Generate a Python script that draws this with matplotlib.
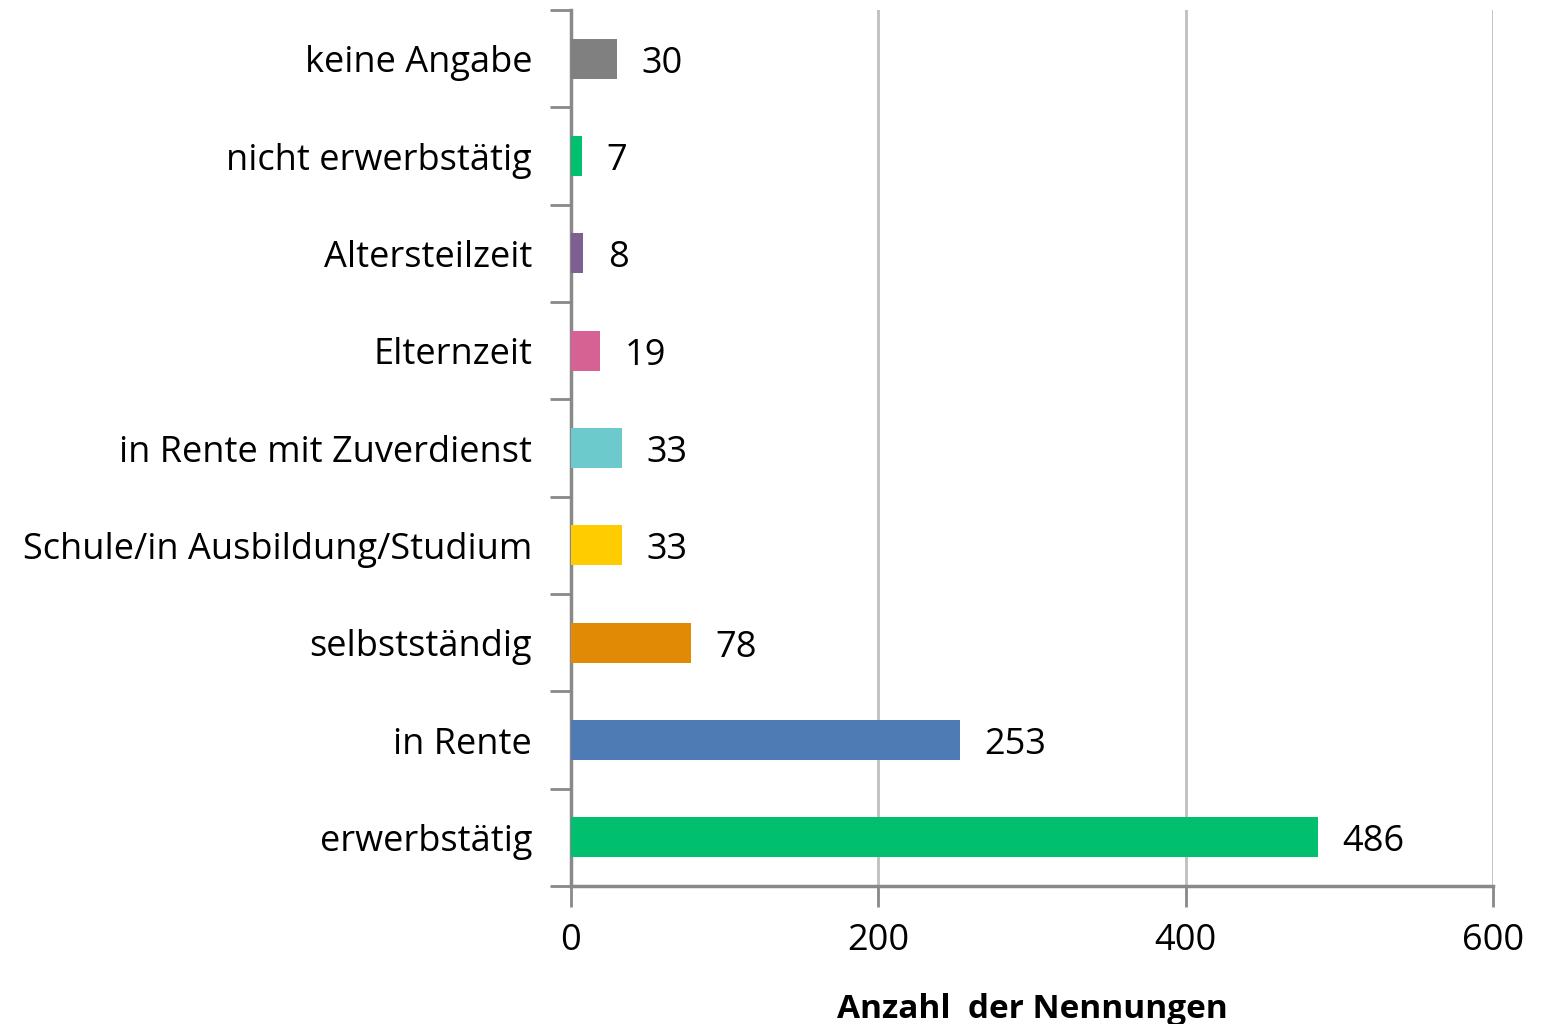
import matplotlib.pyplot as plt

# Daten (von unten nach oben)
categories = ['erwerbstätig', 'in Rente', 'selbstständig', 'Schule/in Ausbildung/Studium',
              'in Rente mit Zuverdienst', 'Elternzeit', 'Altersteilzeit',
              'nicht erwerbstätig', 'keine Angabe']
values = [486, 253, 78, 33, 33, 19, 8, 7, 30]
colors = ['#00BF6F', '#4F7BB4', '#E08A05', '#FFCC00', '#6CC9CC',
          '#D66193', '#7E5F91', '#00C06E', '#808080']
x_ticks = [0, 200, 400, 600]

plt.rcParams['font.family'] = ['Open Sans', 'DejaVu Sans']

fig = plt.figure(figsize=(15.44, 10.24), dpi=100)
ax = fig.add_axes([571 / 1544, 1 - 886 / 1024, (1493 - 571) / 1544, (886 - 10) / 1024])

pos = list(range(len(categories)))
bars = ax.barh(pos, values, height=0.41, color=colors, zorder=3)

# Werte an die Balken schreiben
for bar, v in zip(bars, values):
    ax.text(bar.get_width() + 16, bar.get_y() + bar.get_height() / 2 - 0.05, f'{v}',
            va='center', ha='left', fontsize=26, color='black')

ax.set_xlim(0, 600)
ax.set_ylim(-0.5, len(categories) - 0.5)
ax.set_xticks(x_ticks)
ax.set_xticklabels([str(t) for t in x_ticks], fontsize=26)
ax.tick_params(axis='x', length=15, width=2, color='#898989', direction='out', pad=12)

# Kategorie-Beschriftungen, Ticks an den Grenzen
ax.set_yticks(pos)
ax.set_yticklabels(categories, fontsize=26)
ax.tick_params(axis='y', length=0, pad=28)
ax.set_yticks([p - 0.5 for p in pos] + [len(pos) - 0.5], minor=True)
ax.tick_params(axis='y', which='minor', length=15, width=2, color='#898989', direction='out')

ax.grid(axis='x', color='#C0C0C0', linewidth=2, zorder=0)
for s in ['top', 'right']:
    ax.spines[s].set_visible(False)
for s in ['left', 'bottom']:
    ax.spines[s].set_color('#898989')
    ax.spines[s].set_linewidth(2.5)
ax.spines['bottom'].set_zorder(4)

ax.set_xlabel('Anzahl  der Nennungen', fontsize=24, fontweight='bold', labelpad=24)

plt.savefig('out.png', dpi=100)
